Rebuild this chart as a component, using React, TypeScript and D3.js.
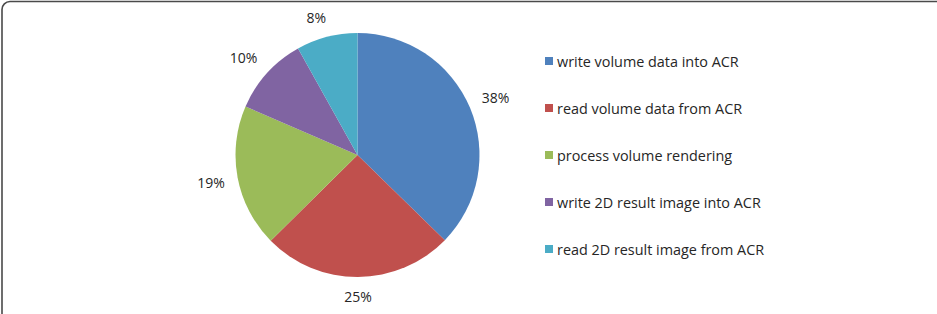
import React from "react";
import * as d3 from "d3";

const categories = [
  "write volume data into ACR",
  "read volume data from ACR",
  "process volume rendering",
  "write 2D result image into ACR",
  "read 2D result image from ACR",
];
const values = [37.3, 25.3, 18.9, 10.4, 8.1];
const percentLabels = ["38%", "25%", "19%", "10%", "8%"];
const colors = ["#4F81BD", "#C0504D", "#9BBB59", "#8064A2", "#4BACC6"];

const W = 937;
const H = 314;
const cx = 357.5;
const cy = 155;
const R = 122;
const anchorR = R + 13;
const FONT = "'Open Sans', 'Noto Sans', sans-serif";

const clamp = (v: number) => Math.max(-1, Math.min(1, v));
const textWidth = (s: string) =>
  s.split("").reduce((acc, ch) => acc + (ch === "%" ? 11.5 : 8), 0);

export default function App() {
  const pie = d3.pie<number>().sort(null).value((d) => d);
  const arcs = pie(values);
  const arcGen = d3.arc<d3.PieArcDatum<number>>().innerRadius(0).outerRadius(R);

  const legendY = d3
    .scalePoint<number>()
    .domain(d3.range(categories.length))
    .range([61, 249]);

  return (
    <svg
      width={W}
      height={H}
      style={{ position: "absolute", left: 0, top: 0, background: "#fff" }}
      fontFamily={FONT}
    >
      <rect
        x={2}
        y={1.5}
        width={W + 20}
        height={H + 20}
        rx={8}
        ry={8}
        fill="#fff"
        stroke="#4a4a4a"
        strokeWidth={1.6}
      />
      <g transform={`translate(${cx},${cy})`}>
        {arcs.map((a, i) => (
          <path key={i} d={arcGen(a) || ""} fill={colors[i]} />
        ))}
        {arcs.map((a, i) => {
          const mid = (a.startAngle + a.endAngle) / 2;
          const s = Math.sin(mid);
          const c = -Math.cos(mid);
          const w = textWidth(percentLabels[i]);
          const x = anchorR * s + (w / 2) * clamp(3 * s);
          const y = anchorR * c + 7 * clamp(2 * c);
          return (
            <text
              key={i}
              x={x}
              y={y}
              textAnchor="middle"
              dominantBaseline="central"
              fontSize={14}
              fill="#262626"
            >
              {percentLabels[i]}
            </text>
          );
        })}
      </g>
      <g>
        {categories.map((c, i) => {
          const y = legendY(i) as number;
          return (
            <g key={i}>
              <rect x={545} y={y - 4} width={8} height={8} fill={colors[i]} />
              <text
                x={557}
                y={y}
                dominantBaseline="central"
                fontSize={14.4}
                fill="#262626"
              >
                {c}
              </text>
            </g>
          );
        })}
      </g>
    </svg>
  );
}
